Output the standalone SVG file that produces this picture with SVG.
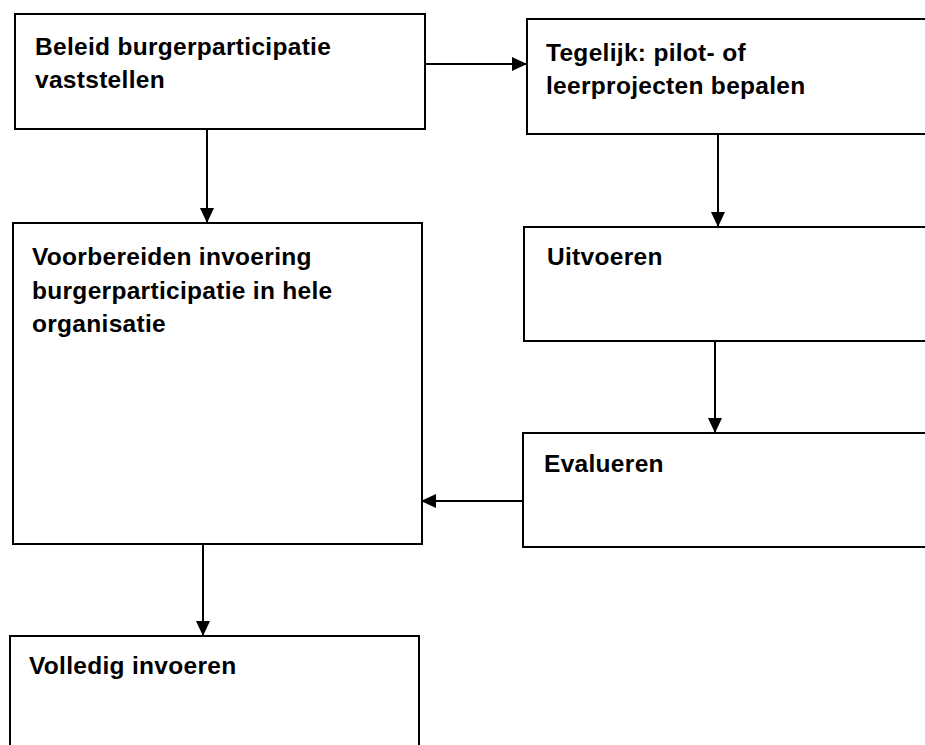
<svg xmlns="http://www.w3.org/2000/svg" width="925" height="745" viewBox="0 0 925 745">
<style>
.box{fill:#fff;stroke:#000;stroke-width:2}
.lbl{font-family:"Liberation Sans",Arial,sans-serif;font-weight:bold;font-size:24.5px;letter-spacing:0.3px;fill:#000}
.con{stroke:#000;stroke-width:2;fill:none}
</style>
<defs>
<marker id="ah" markerUnits="userSpaceOnUse" markerWidth="16" markerHeight="14" refX="15" refY="7" orient="auto">
<path d="M0,0 L15,7 L0,14 Z" fill="#000"/>
</marker>
</defs>
<rect width="925" height="745" fill="#fff"/>
<g id="connectors">
<line class="con" x1="425" y1="64" x2="527" y2="64" marker-end="url(#ah)"/>
<line class="con" x1="207" y1="129" x2="207" y2="223" marker-end="url(#ah)"/>
<line class="con" x1="718" y1="134" x2="718" y2="227" marker-end="url(#ah)"/>
<line class="con" x1="715" y1="341" x2="715" y2="433" marker-end="url(#ah)"/>
<line class="con" x1="523" y1="501" x2="421" y2="501" marker-end="url(#ah)"/>
<line class="con" x1="203" y1="544" x2="203" y2="636" marker-end="url(#ah)"/>
</g>
<g id="n1">
<rect class="box" x="15" y="14" width="410" height="115"/>
<text class="lbl" x="35" y="55">Beleid burgerparticipatie</text>
<text class="lbl" x="35" y="88">vaststellen</text>
</g>
<g id="n2">
<rect class="box" x="527" y="19" width="420" height="115"/>
<text class="lbl" x="546" y="61">Tegelijk: pilot- of</text>
<text class="lbl" x="546" y="94">leerprojecten bepalen</text>
</g>
<g id="n3">
<rect class="box" x="13" y="223" width="409" height="321"/>
<text class="lbl" x="32" y="265">Voorbereiden invoering</text>
<text class="lbl" x="32" y="298.5">burgerparticipatie in hele</text>
<text class="lbl" x="32" y="332">organisatie</text>
</g>
<g id="n4">
<rect class="box" x="524" y="227" width="420" height="114"/>
<text class="lbl" x="547" y="265">Uitvoeren</text>
</g>
<g id="n5">
<rect class="box" x="523" y="433" width="420" height="114"/>
<text class="lbl" x="544" y="472">Evalueren</text>
</g>
<g id="n6">
<rect class="box" x="10" y="636" width="409" height="130"/>
<text class="lbl" x="29" y="674">Volledig invoeren</text>
</g>
</svg>
